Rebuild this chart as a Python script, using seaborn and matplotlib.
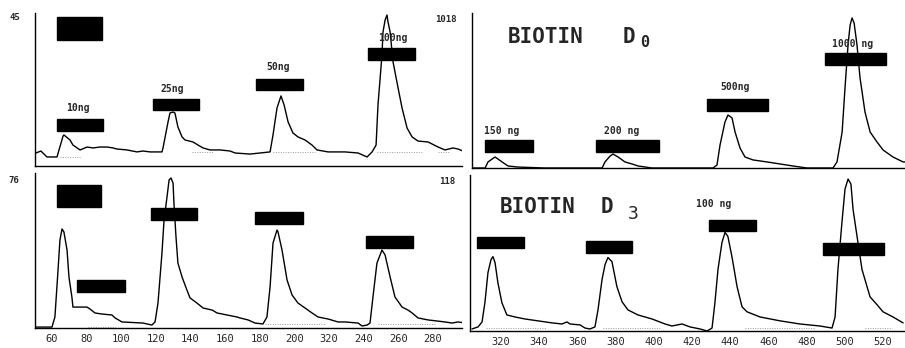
import numpy as np
import pandas as pd
import matplotlib
matplotlib.use("Agg")
import matplotlib.pyplot as plt
from matplotlib.patches import Rectangle
import seaborn as sns

# ---- traces (time, detector signal in % of panel height) ----
tl_time = [50.8, 53.6, 57.1, 62.9, 66.4, 66.9, 70.4, 72.1, 76.2, 80.3, 83.7, 87.7, 91.8, 95.2,
           97.5, 103.3, 109.1, 112.5, 116.6, 123.5, 124.1, 127.0, 128.1, 129.9, 131.0, 132.7,
           135.1, 136.8, 141.4, 144.3, 147.2, 151.2, 157.0, 162.8, 165.7, 174.3, 185.9, 187.6,
           189.9, 192.2, 194.0, 196.3, 199.1, 202.0, 206.1, 210.1, 213.0, 219.4, 229.2, 236.7,
           241.9, 244.8, 247.1, 248.2, 250.5, 251.1, 252.3, 253.4, 254.0, 255.2, 256.9, 259.8,
           262.1, 265.0, 267.9, 271.3, 277.1, 282.9, 286.9, 291.5, 294.4, 298.5]
tl_signal = [8.5, 9.8, 5.9, 5.9, 19.6, 20.3, 17.0, 13.7, 10.5, 12.4, 11.8, 12.4, 12.4, 11.8,
             11.1, 10.5, 9.2, 9.8, 9.2, 9.2, 11.8, 28.8, 34.6, 35.3, 34.6, 25.5,
             19.0, 17.0, 15.7, 13.7, 11.8, 10.5, 10.5, 9.8, 8.5, 7.8, 9.2, 20.3,
             37.9, 45.8, 39.9, 28.8, 21.6, 19.0, 17.0, 13.7, 10.5, 9.2, 9.2, 8.5,
             5.9, 9.2, 13.7, 39.9, 72.5, 87.6, 95.4, 98.7, 94.1, 87.6, 68.0, 51.0,
             37.9, 24.8, 19.0, 16.3, 15.7, 12.4, 10.5, 11.8, 11.1, 9.2]

bl_time = [50.2, 60.0, 61.7, 63.5, 64.6, 65.8, 66.9, 68.7, 69.8, 71.5, 72.1, 76.2, 80.2, 81.9,
           84.8, 88.9, 94.6, 96.4, 100.4, 112.5, 117.7, 119.5, 121.2, 123.5, 124.7, 126.4,
           127.6, 128.7, 129.9, 130.4, 131.6, 132.7, 135.1, 137.9, 139.7, 143.7, 147.2, 152.4,
           155.3, 161.0, 166.8, 168.5, 173.2, 177.2, 181.8, 184.1, 185.9, 187.6, 189.9, 190.5,
           192.8, 195.7, 198.6, 202.0, 206.1, 210.1, 213.6, 219.4, 225.1, 229.2, 236.7, 239.0,
           241.9, 243.6, 245.3, 247.6, 250.5, 252.3, 255.2, 258.0, 262.1, 265.5, 267.9, 271.3,
           277.1, 286.9, 290.9, 294.4, 298.5]
bl_signal = [0.6, 0.6, 7.1, 37.4, 56.8, 63.9, 61.9, 50.3, 32.9, 20.0, 13.5, 13.5, 13.5, 12.3,
             9.7, 9.0, 8.4, 6.5, 3.9, 3.2, 1.9, 3.9, 16.1, 48.4, 69.7, 84.5,
             95.5, 96.8, 93.5, 80.6, 58.7, 41.9, 32.9, 24.5, 19.4, 16.1, 12.9, 11.6,
             9.7, 8.4, 7.1, 6.5, 5.2, 3.2, 2.6, 7.1, 26.5, 54.8, 63.2, 61.9,
             50.3, 31.0, 21.3, 16.1, 12.9, 9.7, 7.1, 5.8, 3.9, 3.9, 3.2, 1.3,
             1.9, 3.2, 20.0, 41.9, 50.3, 47.1, 32.9, 20.0, 13.5, 11.6, 9.7, 6.5,
             5.2, 3.9, 3.2, 3.9, 3.2]

tr_time = [301.6, 308.5, 310.0, 313.7, 317.4, 320.5, 325.8, 339.9, 360.9, 369.9, 371.4, 374.1,
           375.6, 378.3, 381.9, 385.6, 388.8, 396.1, 409.8, 428.1, 430.2, 431.8, 434.4, 436.0,
           438.1, 439.7, 442.3, 444.9, 449.1, 456.5, 463.3, 470.1, 477.5, 485.9, 491.1, 493.2,
           495.9, 497.4, 499.0, 500.1, 501.1, 502.2, 503.7, 505.3, 507.9, 510.6, 514.2, 517.4,
           522.6, 527.9, 530.0]
tr_signal = [0.0, 0.0, 3.9, 7.1, 3.9, 1.3, 0.6, 0.0, 0.0, 0.0, 3.9, 7.7,
             9.0, 7.1, 3.9, 2.6, 1.3, 0.0, 0.0, 0.0, 1.9, 14.8, 29.7, 34.2,
             32.3, 23.2, 12.9, 7.1, 5.2, 3.9, 2.6, 1.3, 0.0, 0.0, 0.0, 3.9,
             23.2, 51.6, 79.4, 92.3, 96.8, 93.5, 79.4, 58.1, 36.1, 23.2, 16.8, 11.6,
             7.1, 3.9, 3.9]

br_time = [304.8, 308.0, 310.1, 311.6, 313.2, 314.8, 315.8, 316.9, 318.4, 320.5, 323.1, 327.3,
           332.6, 339.4, 346.7, 351.9, 354.6, 356.1, 361.4, 364.0, 366.6, 369.2, 370.8, 372.9,
           374.5, 376.0, 378.1, 380.7, 383.4, 386.5, 391.7, 399.1, 405.9, 409.5, 414.8, 419.0,
           424.2, 427.9, 430.5, 432.0, 433.6, 435.7, 437.3, 438.8, 440.9, 443.6, 446.2, 448.8,
           455.6, 466.1, 476.5, 487.0, 493.3, 494.9, 496.4, 498.5, 500.1, 501.7, 503.2, 504.3,
           506.4, 509.0, 513.2, 516.9, 520.0, 525.2, 530.5]
br_signal = [1.3, 2.6, 5.8, 18.1, 37.4, 45.8, 47.7, 43.9, 31.0, 18.1, 10.3, 9.0,
             7.7, 6.5, 5.2, 4.5, 5.8, 4.5, 3.9, 1.9, 1.3, 2.6, 13.5, 32.9,
             42.6, 47.1, 44.5, 28.4, 18.7, 13.5, 10.3, 7.7, 4.5, 3.2, 4.5, 2.6,
             1.3, 0.0, 1.9, 18.1, 39.4, 56.8, 63.2, 60.6, 47.7, 28.4, 15.5, 12.3,
             9.0, 6.5, 4.5, 3.2, 1.9, 9.0, 39.4, 69.7, 91.0, 97.4, 94.2, 78.1,
             60.6, 39.4, 21.9, 16.8, 12.3, 9.0, 5.2]

# integration baselines (start, end, level)
tl_base = [(64.6, 76.2, 5.9), (140.8, 153.0, 9.2), (187.6, 211.8, 9.2),
           (247.6, 273.6, 9.2), (282.9, 289.8, 9.2)]
bl_base = [(80.8, 96.4, 0.6), (183.0, 217.6, 2.6), (248.2, 281.1, 2.6)]
br_base = [(312.1, 343.6, 1.9), (373.4, 403.2, 1.9), (447.7, 484.4, 1.9), (510.6, 524.7, 1.9)]

# amount labels (text, time, level)
tl_labels = [("10ng", 75.0, 37.9), ("25ng", 129.3, 50.3), ("50ng", 190.5, 64.7), ("100ng", 256.9, 83.7)]
tr_labels = [("150 ng", 316.9, 23.9), ("200 ng", 380.4, 23.9), ("500ng", 439.7, 52.3), ("1000 ng", 501.6, 80.0)]
br_labels = [("100 ng", 431.5, 81.3)]

# black peak tag boxes (t0, t1, v0, v1)
tl_boxes = [(62.9, 88.9, 82.4, 97.4), (62.9, 89.4, 22.9, 30.7), (118.3, 144.9, 36.6, 43.8),
            (177.8, 204.9, 49.7, 56.9), (242.4, 269.6, 69.3, 77.1)]
bl_boxes = [(62.9, 88.3, 78.1, 92.3), (74.4, 102.1, 23.2, 31.0), (117.2, 143.7, 69.7, 77.4),
            (177.2, 204.9, 67.1, 74.8), (241.3, 268.4, 51.6, 59.4)]
tr_boxes = [(308.5, 333.7, 10.3, 18.1), (366.8, 399.9, 10.3, 18.1),
            (425.1, 457.1, 36.8, 44.5), (487.0, 519.0, 66.5, 74.2)]
br_boxes = [(307.4, 332.0, 52.9, 60.0), (364.5, 388.6, 50.3, 57.4),
            (428.9, 453.5, 63.9, 71.0), (488.6, 520.5, 48.4, 56.1)]

left_ticks = [60, 80, 100, 120, 140, 160, 180, 200, 220, 240, 260, 280]
left_ticklabels = ["60", "80", "100", "120", "140", "160", "180", "200", "320", "240", "260", "280"]
right_ticks = [320, 340, 360, 380, 400, 420, 440, 460, 480, 500, 520]

sns.set_style("white")
plt.rcParams['font.family'] = ['DejaVu Sans Mono', 'DejaVu Sans']

W, H = 905, 348
fig = plt.figure(figsize=(W / 100, H / 100), dpi=100)


def px_axes(x0, x1, y0, y1):
    return fig.add_axes([x0 / W, 1 - y1 / H, (x1 - x0) / W, (y1 - y0) / H])


ax_tl = px_axes(35, 462, 13, 166)
ax_bl = px_axes(35, 462, 173, 328)
ax_tr = px_axes(472, 905, 13, 168)
ax_br = px_axes(470, 905, 175, 331)

panels = [
    (ax_tl, tl_time, tl_signal, tl_base, tl_boxes, tl_labels, (50.2, 296.7)),
    (ax_bl, bl_time, bl_signal, bl_base, bl_boxes, [], (50.2, 296.7)),
    (ax_tr, tr_time, tr_signal, [], tr_boxes, tr_labels, (301.6, 528.9)),
    (ax_br, br_time, br_signal, br_base, br_boxes, br_labels, (303.8, 531.5)),
]

for ax, t, s, base, boxes, labels, xl in panels:
    df = pd.DataFrame({"time": t, "signal": s})
    sns.lineplot(data=df, x="time", y="signal", ax=ax, color="black", lw=1.0,
                 estimator=None, sort=False)
    for t0, t1, lev in base:
        ax.plot([t0, t1], [lev, lev], color="#999999", lw=0.7, ls=(0, (1, 1.5)))
    for t0, t1, v0, v1 in boxes:
        ax.add_patch(Rectangle((t0, v0), t1 - t0, v1 - v0, color="black", zorder=3))
    for txt, tx, ty in labels:
        ax.text(tx, ty, txt, ha="center", va="center", fontsize=7, fontweight="bold")
    ax.set_xlim(*xl)
    ax.set_ylim(0, 100)
    ax.set_xlabel("")
    ax.set_ylabel("")
    ax.set_yticks([])
    for side in ["top", "right"]:
        ax.spines[side].set_visible(False)
    for side in ["left", "bottom"]:
        ax.spines[side].set_color("black")
        ax.spines[side].set_linewidth(1.0)
    ax.patch.set_alpha(0)

for ax in (ax_tl, ax_bl):
    ax.set_xticks(left_ticks)
for ax in (ax_tr, ax_br):
    ax.set_xticks(right_ticks)

for ax in (ax_tl, ax_tr):
    ax.set_xticklabels([])
    ax.tick_params(axis="x", direction="out", length=5, width=1.0, color="black")
ax_bl.set_xticklabels(left_ticklabels)
ax_br.set_xticklabels([str(v) for v in right_ticks])
for ax in (ax_bl, ax_br):
    ax.tick_params(axis="x", direction="out", length=2, width=0.8, color="black",
                   labelsize=7.5, pad=2)

# titles
ax_tr.text(320.5, 84.5, "BIOTIN", ha="left", va="center", fontsize=15, fontweight="bold")
ax_tr.text(380.9, 84.5, "D", ha="left", va="center", fontsize=15, fontweight="bold")
ax_tr.text(392.5, 81.0, "0", ha="center", va="center", fontsize=11, fontweight="bold")
ax_br.text(319.5, 79.4, "BIOTIN", ha="left", va="center", fontsize=15, fontweight="bold")
ax_br.text(372.0, 79.4, "D", ha="left", va="center", fontsize=15, fontweight="bold")
ax_br.text(389.0, 75.0, "3", ha="center", va="center", fontsize=13)

# scale annotations
fig.text(15 / W, 1 - 18 / H, "45", ha="center", va="center", fontsize=6.5, fontweight="bold")
fig.text(446 / W, 1 - 19 / H, "1018", ha="center", va="center", fontsize=6.5, fontweight="bold")
fig.text(14 / W, 1 - 181 / H, "76", ha="center", va="center", fontsize=6.5, fontweight="bold")
fig.text(447 / W, 1 - 182 / H, "118", ha="center", va="center", fontsize=6.5, fontweight="bold")

fig.savefig("out.png", dpi=100, facecolor="white")
